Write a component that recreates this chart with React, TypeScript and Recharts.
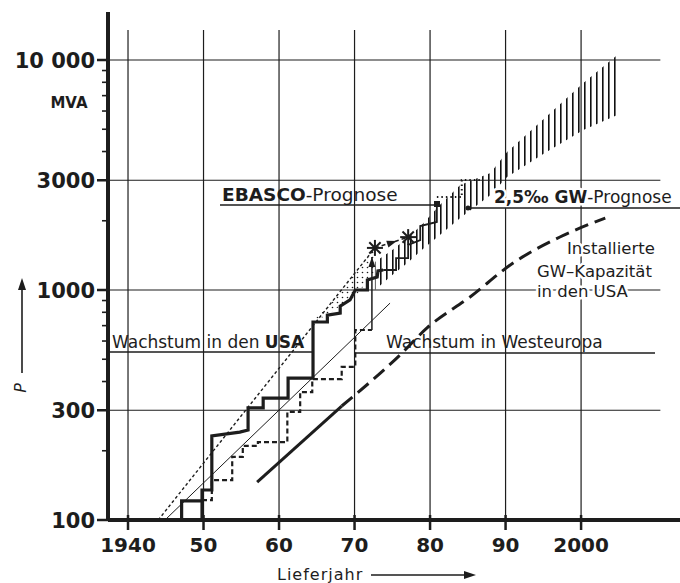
import React from 'react';
import { ComposedChart, Line, Area, Scatter, XAxis, YAxis, ReferenceLine } from 'recharts';

const INK = '#1d1d1d';
const FONT = '"DejaVu Sans", sans-serif';

const X_MIN = 1937.35;
const X_MAX = 2013.1;
const Y_MIN = 100;
const Y_MAX = 16170;
const GRID_RIGHT = 2010.5;
const GRID_TOP = 13500;

// axes
const decades = [1940, 1950, 1960, 1970, 1980, 1990, 2000];
const decadeLabels = ['1940', '50', '60', '70', '80', '90', '2000'];
const majorP = [100, 300, 1000, 3000, 10000];
const majorPLabels = ['100', '300', '1000', '3000', '10 000'];
const minorP = [200, 400, 500, 600, 700, 800, 900, 2000, 4000, 5000, 6000, 7000, 8000, 9000];

// Wachstum in den USA – heavy staircase
const usaYears = [1947.1, 1947.1, 1949.8, 1949.8, 1949.8, 1951.1, 1951.1, 1954.8, 1955.9, 1955.9, 1957.9, 1957.9,
  1961.2, 1961.2, 1964.5, 1964.5, 1966.4, 1966.4, 1968.1, 1968.1, 1969.4, 1970.1, 1971.7, 1971.7, 1973.0, 1973.1, 1973.8];
const usaP = [100, 121, 121, 100, 135, 135, 232, 241, 246, 307, 307, 339,
  339, 414, 414, 726, 726, 778, 794, 851, 905, 1000, 1000, 1105, 1139, 1211, 1222];

// continuation inside the hatched band
const usaLateYears = [1973.8, 1975.5, 1975.5, 1977.1, 1977.1, 1978.7, 1978.7, 1980.9, 1980.9];
const usaLateP = [1222, 1222, 1377, 1377, 1570, 1649, 1897, 1976, 2344];

// EBASCO-Prognose – dotted steps
const ebascoYears = [1980.9, 1984.2, 1984.2, 1987.0];
const ebascoP = [2535, 2535, 3006, 3006];

// Wachstum in Westeuropa – dashed staircase (step after)
const euYears = [1949.8, 1951.1, 1953.8, 1955.2, 1957.2, 1961.1, 1962.8, 1964.4, 1968.3, 1970.1, 1972.3];
const euP = [122, 149, 188, 210, 218, 295, 360, 410, 463, 670, 670];

// straight trend lines
const envYears = [1944.0, 1972.7];
const envP = [100, 1524];
const trendYears = [1944.9, 1974.7];
const trendP = [100, 877];

// Installierte GW-Kapazität in den USA
const capSolidYears = [1957.1, 1968.3];
const capSolidP = [146, 313];
const capDashYears = [1968.3, 1976.0, 1979.6, 1985.3, 1991.0, 1997.2, 2003.2];
const capDashP = [313, 521, 684, 933, 1310, 1700, 2056];

// 2,5‰ GW-Prognose – hatched band
const bandYears = [1972.7, 1975.0, 1977.0, 1978.9, 1981.3, 1984.0, 1988.0, 1990.2, 1995.2, 2000.3, 2004.8];
const bandLow = [1000, 1161, 1310, 1493, 1734, 2056, 2588, 3100, 3944, 4966, 5768];
const bandHigh = [1324, 1493, 1683, 1919, 2344, 2864, 3228, 3981, 5598, 7943, 10520];

// stippled wedge above the USA steps
const dotYears = [1964.5, 1966.4, 1968.1, 1969.8, 1971.8, 1972.7];
const dotLow = [726, 778, 851, 905, 1105, 1211];
const dotHigh = [740, 836, 984, 1157, 1399, 1524];

// asterisks and arrows
const starYears = [1972.7, 1977.1];
const starP = [1524, 1698];
const euArrowYears = [1972.3, 1972.3];
const euArrowP = [670, 1390];
const headYears = [1972.3, 1975.6];
const headP = [1390, 1633];
const headAngles = [-90, -18];

const pts = (xs: number[], ys: number[]) => xs.map((x, i) => ({ x, y: ys[i] }));
const bandPts = (xs: number[], lo: number[], hi: number[]) => xs.map((x, i) => ({ x, band: [lo[i], hi[i]] }));

function YTick(props: any) {
  const { y, payload } = props;
  const i = majorP.indexOf(payload.value);
  if (i >= 0) {
    return (
      <g>
        <line x1={97} x2={108} y1={y} y2={y} stroke={INK} strokeWidth={2.5} />
        <text x={95} y={y} dy="0.36em" textAnchor="end" fontFamily={FONT} fontWeight={700} fontSize={21} fill={INK}>
          {majorPLabels[i]}
        </text>
      </g>
    );
  }
  return <line x1={102} x2={108} y1={y} y2={y} stroke={INK} strokeWidth={1.6} />;
}

function XTick(props: any) {
  const { x, payload } = props;
  const i = decades.indexOf(payload.value);
  return (
    <g>
      <line x1={x} x2={x} y1={515} y2={530} stroke={INK} strokeWidth={2.5} />
      <text x={x} y={552} textAnchor="middle" fontFamily={FONT} fontWeight={700} fontSize={20} fill={INK}>
        {decadeLabels[i]}
      </text>
    </g>
  );
}

function Asterisk(props: any) {
  const { cx, cy } = props;
  const r = 8;
  return (
    <g stroke={INK} strokeWidth={2}>
      {[0, 45, 90, 135].map((a) => {
        const dx = r * Math.cos((a * Math.PI) / 180);
        const dy = r * Math.sin((a * Math.PI) / 180);
        return <line key={a} x1={cx - dx} y1={cy - dy} x2={cx + dx} y2={cy + dy} />;
      })}
    </g>
  );
}

function Head(props: any) {
  const { cx, cy, payload } = props;
  return (
    <polygon
      points="0,0 -10,-3.5 -10,3.5"
      fill={INK}
      transform={`translate(${cx},${cy}) rotate(${payload.angle})`}
    />
  );
}

export default function App() {
  const knock = { paintOrder: 'stroke', stroke: '#fff', strokeWidth: 5, strokeLinejoin: 'round' } as any;
  return (
    <div style={{ position: 'absolute', left: 0, top: 0, width: 680, height: 583, background: '#fff' }}>
      <ComposedChart width={680} height={583} margin={{ top: 12, right: 0, bottom: 0, left: 0 }}>
        <defs>
          <pattern id="hatch" patternUnits="userSpaceOnUse" width="6" height="10">
            <rect x="2" y="0" width="1.6" height="10" fill="#111" />
          </pattern>
          <pattern id="dots" patternUnits="userSpaceOnUse" width="5" height="5">
            <circle cx="2.5" cy="2.5" r="0.8" fill={INK} />
          </pattern>
        </defs>
        <XAxis
          type="number"
          dataKey="x"
          domain={[X_MIN, X_MAX]}
          allowDataOverflow
          ticks={decades}
          interval={0}
          height={63}
          axisLine={{ stroke: INK, strokeWidth: 4 }}
          tickLine={false}
          tick={<XTick />}
        />
        <YAxis
          type="number"
          dataKey="y"
          scale="log"
          domain={[Y_MIN, Y_MAX]}
          allowDataOverflow
          ticks={[...majorP, ...minorP]}
          interval={0}
          width={108}
          axisLine={{ stroke: INK, strokeWidth: 4 }}
          tickLine={false}
          tick={<YTick />}
        />
        {decades.map((d) => (
          <ReferenceLine
            key={'v' + d}
            segment={[{ x: d, y: Y_MIN }, { x: d, y: GRID_TOP }]}
            stroke={INK}
            strokeWidth={1.2}
          />
        ))}
        {majorP.slice(1).map((p) => (
          <ReferenceLine
            key={'h' + p}
            segment={[{ x: X_MIN, y: p }, { x: GRID_RIGHT, y: p }]}
            stroke={INK}
            strokeWidth={1.2}
          />
        ))}
        <Area data={bandPts(bandYears, bandLow, bandHigh)} dataKey="band" type="linear" stroke="none" fill="url(#hatch)" fillOpacity={1} isAnimationActive={false} />
        <Area data={bandPts(dotYears, dotLow, dotHigh)} dataKey="band" type="linear" stroke="none" fill="url(#dots)" fillOpacity={1} isAnimationActive={false} />
        <Line data={pts(trendYears, trendP)} dataKey="y" stroke={INK} strokeWidth={1} dot={false} isAnimationActive={false} />
        <Line data={pts(envYears, envP)} dataKey="y" stroke={INK} strokeWidth={1.4} strokeDasharray="3 2.5" dot={false} isAnimationActive={false} />
        <Line data={pts(capSolidYears, capSolidP)} dataKey="y" stroke={INK} strokeWidth={3} dot={false} isAnimationActive={false} />
        <Line data={pts(capDashYears, capDashP)} dataKey="y" type="monotone" stroke={INK} strokeWidth={3} strokeDasharray="14 7" dot={false} isAnimationActive={false} />
        <Line data={pts(euYears, euP)} dataKey="y" type="stepAfter" stroke={INK} strokeWidth={2.2} strokeDasharray="5 3" dot={false} isAnimationActive={false} />
        <Line data={pts(euArrowYears, euArrowP)} dataKey="y" stroke={INK} strokeWidth={1.5} dot={false} isAnimationActive={false} />
        <Line data={pts(starYears, starP)} dataKey="y" stroke={INK} strokeWidth={1.5} strokeDasharray="4 3" dot={false} isAnimationActive={false} />
        <Line data={pts(usaYears, usaP)} dataKey="y" stroke={INK} strokeWidth={3.2} strokeLinejoin="miter" dot={false} isAnimationActive={false} />
        <Line data={pts(usaLateYears, usaLateP)} dataKey="y" stroke={INK} strokeWidth={1.8} dot={false} isAnimationActive={false} />
        <Line data={pts(ebascoYears, ebascoP)} dataKey="y" stroke={INK} strokeWidth={2} strokeDasharray="1.5 3" dot={false} isAnimationActive={false} />
        <Scatter data={pts(starYears, starP)} shape={<Asterisk />} isAnimationActive={false} />
        <Scatter
          data={headYears.map((x, i) => ({ x, y: headP[i], angle: headAngles[i] }))}
          shape={<Head />}
          isAnimationActive={false}
        />
      </ComposedChart>

      <svg width={680} height={583} style={{ position: 'absolute', left: 0, top: 0, pointerEvents: 'none' }} fontFamily={FONT} fill={INK}>
        <text x={69} y={108} textAnchor="middle" fontSize={15} fontWeight={700}>MVA</text>

        <line x1={22} y1={373} x2={22} y2={286} stroke={INK} strokeWidth={1.6} />
        <polygon points="22,278 18,290 26,290" fill={INK} />
        <text x={0} y={0} fontSize={16} fontStyle="italic" transform="translate(26,388) rotate(-90)" textAnchor="middle">P</text>

        <text x={277} y={580} fontSize={16} letterSpacing={1}>Lieferjahr</text>
        <line x1={371} y1={575} x2={466} y2={575} stroke={INK} strokeWidth={1.6} />
        <polygon points="476,575 464,571 464,579" fill={INK} />

        <text x={222} y={201} fontSize={18.5}>
          <tspan fontWeight={700}>EBASCO</tspan>
          <tspan>-Prognose</tspan>
        </text>
        <line x1={220} y1={205} x2={437} y2={205} stroke={INK} strokeWidth={1.4} />
        <rect x={434} y={201} width={6} height={6} fill={INK} />

        <text x={494} y={203} fontSize={17} {...knock}>
          <tspan fontWeight={700}>2,5‰ GW</tspan>
          <tspan>-Prognose</tspan>
        </text>
        <line x1={468} y1={208} x2={680} y2={208} stroke={INK} strokeWidth={1.4} />
        <circle cx={468} cy={208} r={2.5} fill={INK} />

        <text fontSize={16.5} {...knock}>
          <tspan x={567} y={254}>Installierte</tspan>
          <tspan x={537} y={277}>GW–Kapazität</tspan>
          <tspan x={537} y={297}>in den USA</tspan>
        </text>

        <text x={112} y={348} fontSize={17}>
          <tspan>Wachstum in den </tspan>
          <tspan fontWeight={700}>USA</tspan>
        </text>
        <line x1={108} y1={352} x2={313} y2={352} stroke={INK} strokeWidth={1.3} />

        <text x={386} y={348} fontSize={17}>Wachstum in Westeuropa</text>
        <line x1={355} y1={353} x2={655} y2={353} stroke={INK} strokeWidth={1.3} />
      </svg>
    </div>
  );
}
